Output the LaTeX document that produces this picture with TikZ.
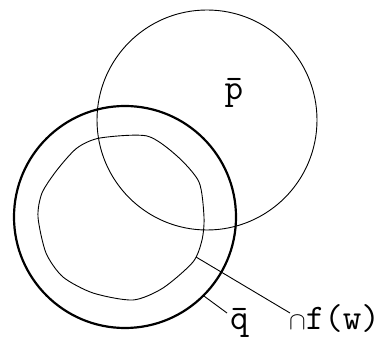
\documentclass[tikz,border=0pt]{standalone}
\usepackage{fontspec}
\usetikzlibrary{positioning,calc}

\begin{document}
\begin{tikzpicture}[x=1pt,y=-1pt,
      ring/.style={draw,circle,inner sep=0pt,line width=0.9pt},
      thickring/.style={ring,line width=2.2pt},
      blob/.style={line width=0.9pt},
      lead/.style={line width=0.9pt},
      lab/.style={inner sep=0pt,font=\fontsize{36}{38}\selectfont\ttfamily}]
    \useasboundingbox (0,0) rectangle (389,342);
    % the two circles
    \node[ring,minimum size=220pt] (p) at (207,120) {};
    \node[thickring,minimum size=222pt] (q) at (125,217) {};
    % inner region f(w)
    \draw[blob] plot[smooth cycle,tension=0.45] coordinates {
      (100,138) (147,136) (177,156) (199,182) (204,217) (202,240)
      (193,262) (163,288) (133,300) (93,293) (63,277) (46,253)
      (38,217) (42,193) (57,170) (77,148)};
    \coordinate (fw) at (196,257);
    % labels
    \node[lab,anchor=base] (plab) at (234,100) {\=p};
    \node[lab,anchor=base west] (qlab) at (230,330) {\=q};
    \node[lab,anchor=base west] (fwlab) at (289,330) {$\cap$f(w)};
    \coordinate (qend) at (227,313);
    \coordinate (fwend) at (290,313);
    \draw[lead] (q.-45) -- (qend);
    \draw[lead] (fw) -- (fwend);
  \end{tikzpicture}
\end{document}
